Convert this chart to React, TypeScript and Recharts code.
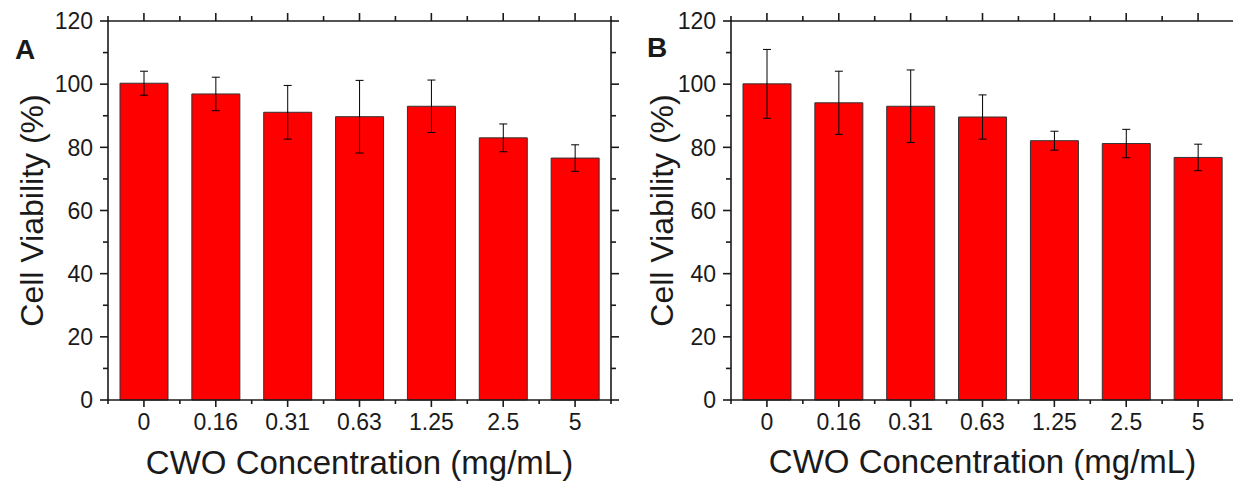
import React from 'react';
import { BarChart, Bar, XAxis, YAxis, ErrorBar } from 'recharts';

// ---- data ----
const categories = ['0', '0.16', '0.31', '0.63', '1.25', '2.5', '5'];
const viabilityA = [100.3, 96.9, 91.1, 89.7, 93.0, 83.0, 76.6];
const errorA = [3.8, 5.3, 8.5, 11.5, 8.3, 4.4, 4.2];
const viabilityB = [100.1, 94.1, 93.0, 89.6, 82.1, 81.2, 76.8];
const errorB = [10.9, 10.0, 11.5, 7.0, 3.0, 4.5, 4.2];
const yTicks = [0, 10, 20, 30, 40, 50, 60, 70, 80, 90, 100, 110, 120];
const yLabelStep = 20;
const panelLetters = ['A', 'B'];
const yTitle = 'Cell Viability (%)';
const xTitle = 'CWO Concentration (mg/mL)';

// ---- style ----
const FONT = '"Liberation Sans", Arial, Helvetica, sans-serif';
const INK = '#1a1a1a';
const AXIS_W = 1.6;

const makeXTick = (side: 'top' | 'bottom', showLabels: boolean) => (props: any) => {
  const { x, y, payload, index } = props;
  const half = payload && typeof payload.offset === 'number' && payload.offset > 0 ? payload.offset : 36;
  const dir = side === 'bottom' ? 1 : -1;
  const major = side === 'bottom' ? 7 : 8;
  const minor = side === 'bottom' ? 4 : 5;
  return (
    <g>
      <line x1={x} x2={x} y1={y} y2={y + dir * major} stroke={INK} strokeWidth={AXIS_W} />
      <line x1={x + half} x2={x + half} y1={y} y2={y + dir * minor} stroke={INK} strokeWidth={AXIS_W} />
      {index === 0 && (
        <line x1={x - half} x2={x - half} y1={y} y2={y + dir * minor} stroke={INK} strokeWidth={AXIS_W} />
      )}
      {showLabels && (
        <text x={x} y={y + 30} textAnchor="middle" fontFamily={FONT} fontSize={23} fill={INK}>
          {payload.value}
        </text>
      )}
    </g>
  );
};

const makeYTick = (side: 'left' | 'right', showLabels: boolean) => (props: any) => {
  const { x, y, payload } = props;
  const isMajor = payload.value % yLabelStep === 0;
  const dir = side === 'left' ? -1 : 1;
  const len = isMajor ? 8 : 5;
  return (
    <g>
      <line x1={x} x2={x + dir * len} y1={y} y2={y} stroke={INK} strokeWidth={AXIS_W} />
      {showLabels && isMajor && (
        <text x={x - 15} y={y} dy="0.36em" textAnchor="end" fontFamily={FONT} fontSize={23} fill={INK}>
          {payload.value}
        </text>
      )}
    </g>
  );
};

type PanelProps = {
  values: number[];
  errors: number[];
  letter: string;
  width: number;
  yAxisWidth: number;
  rightMargin: number;
  yTitleX: number;
  xTitleDy: number;
  letterX: number;
  letterY: number;
};

function Panel(p: PanelProps) {
  const data = categories.map((c, i) => ({ label: c, value: p.values[i], err: p.errors[i] }));
  const axisLine = { stroke: INK, strokeWidth: AXIS_W, strokeLinecap: 'square' as const };
  return (
    <BarChart
      width={p.width}
      height={482}
      data={data}
      margin={{ top: 20, right: p.rightMargin, bottom: 0, left: 0 }}
      barSize={48}
    >
      <XAxis
        dataKey="label"
        type="category"
        height={82}
        interval={0}
        tickSize={0}
        tickMargin={0}
        tickLine={false}
        axisLine={axisLine}
        tick={makeXTick('bottom', true)}
        label={{
          content: (lp: any) => {
            const vb = lp.viewBox || { x: 0, y: 0, width: 0 };
            return (
              <text
                x={vb.x + vb.width / 2}
                y={vb.y + p.xTitleDy}
                textAnchor="middle"
                fontFamily={FONT}
                fontSize={33}
                fill={INK}
              >
                {xTitle}
              </text>
            );
          },
        }}
      />
      <XAxis
        xAxisId="top"
        dataKey="label"
        type="category"
        orientation="top"
        height={1}
        interval={0}
        tickSize={0}
        tickMargin={0}
        tickLine={false}
        axisLine={axisLine}
        tick={makeXTick('top', false)}
        label={{
          content: () => (
            <text x={p.letterX} y={p.letterY} fontFamily={FONT} fontWeight="bold" fontSize={28} fill={INK}>
              {p.letter}
            </text>
          ),
        }}
      />
      <YAxis
        type="number"
        domain={[0, 120]}
        ticks={yTicks}
        interval={0}
        width={p.yAxisWidth}
        tickSize={0}
        tickMargin={0}
        tickLine={false}
        axisLine={axisLine}
        tick={makeYTick('left', true)}
        label={{
          content: (lp: any) => {
            const vb = lp.viewBox || { x: 0, y: 0, height: 0 };
            const cx = vb.x + p.yTitleX;
            const cy = vb.y + vb.height / 2;
            return (
              <text
                x={cx}
                y={cy}
                transform={`rotate(-90, ${cx}, ${cy})`}
                textAnchor="middle"
                dominantBaseline="central"
                fontFamily={FONT}
                fontSize={32}
                fill={INK}
              >
                {yTitle}
              </text>
            );
          },
        }}
      />
      <YAxis
        yAxisId="right"
        orientation="right"
        type="number"
        domain={[0, 120]}
        ticks={yTicks}
        interval={0}
        width={1}
        tickSize={0}
        tickMargin={0}
        tickLine={false}
        axisLine={axisLine}
        tick={makeYTick('right', false)}
      />
      {/* invisible series so the mirrored frame axes (top / right) get a domain */}
      <Bar
        dataKey="value"
        xAxisId="top"
        yAxisId="right"
        fill="none"
        stroke="none"
        isAnimationActive={false}
        legendType="none"
      />
      <Bar dataKey="value" fill="#ff0000" stroke="#333333" strokeWidth={1} isAnimationActive={false}>
        <ErrorBar dataKey="err" width={4} stroke="#000000" strokeWidth={1} direction="y" />
      </Bar>
    </BarChart>
  );
}

export default function App() {
  return (
    <div style={{ position: 'absolute', left: 0, top: 0, width: 1233, height: 482, background: '#ffffff', overflow: 'hidden' }}>
      <div style={{ position: 'absolute', left: 0, top: 0 }}>
        <Panel
          values={viabilityA}
          errors={errorA}
          letter={panelLetters[0]}
          width={620}
          yAxisWidth={108}
          rightMargin={8}
          yTitleX={31.5}
          xTitleDy={74}
          letterX={15}
          letterY={59}
        />
      </div>
      <div style={{ position: 'absolute', left: 620, top: 0 }}>
        <Panel
          values={viabilityB}
          errors={errorB}
          letter={panelLetters[1]}
          width={615}
          yAxisWidth={111}
          rightMargin={0}
          yTitleX={42}
          xTitleDy={73}
          letterX={27}
          letterY={57}
        />
      </div>
    </div>
  );
}
